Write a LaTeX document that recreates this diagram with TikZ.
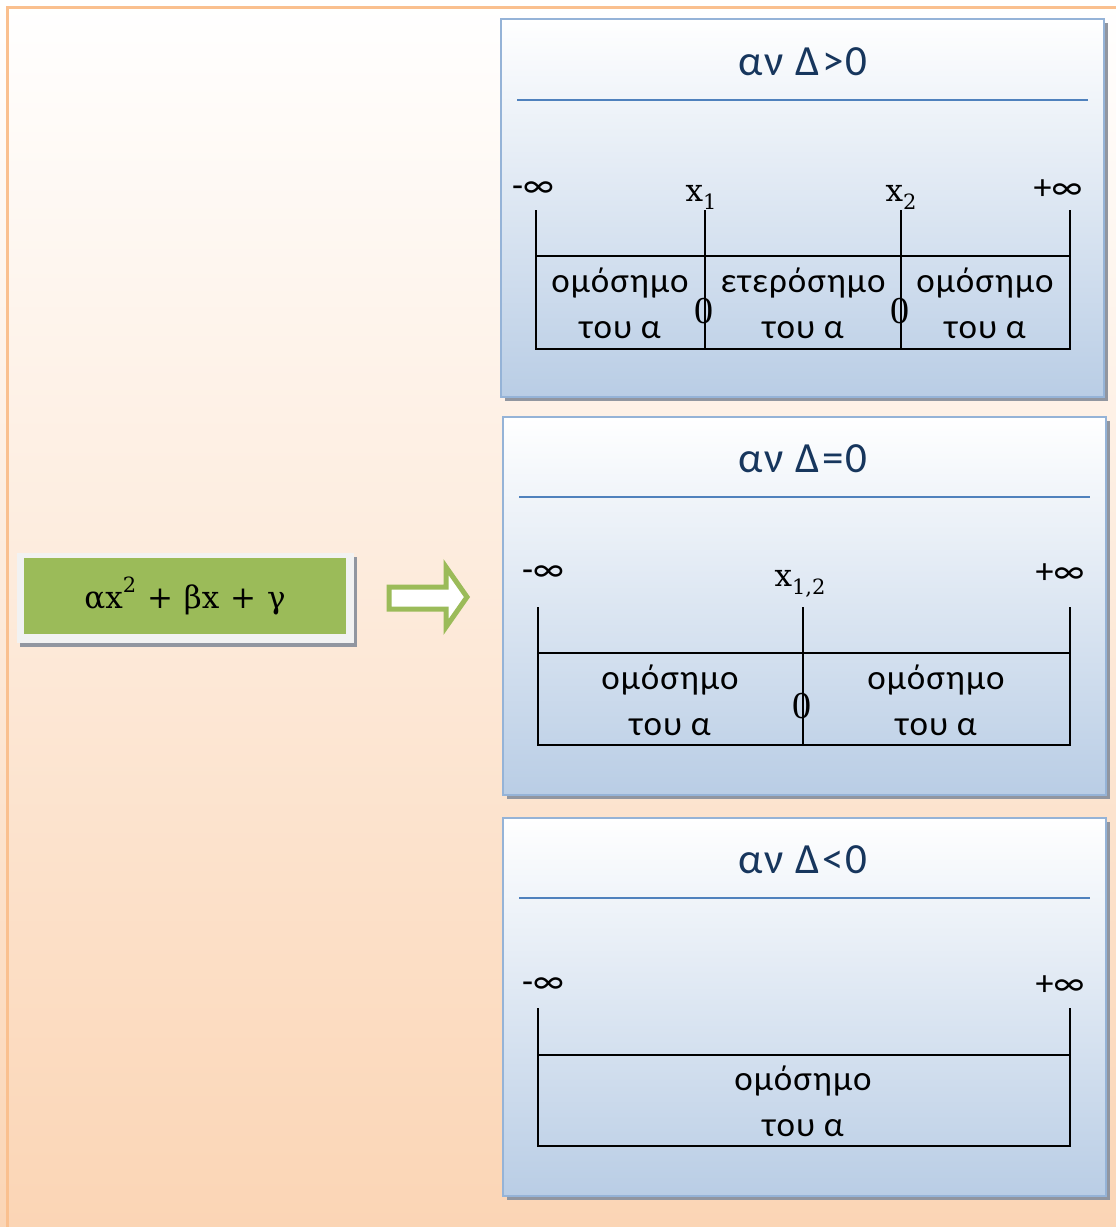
\documentclass[tikz,border=0pt]{standalone}
\usepackage{fontspec}
\setmainfont{Carlito}
\newfontfamily\serif{Liberation Serif}
\newfontfamily\mserif{DejaVu Serif}
\newfontfamily\titlefont[LetterSpace=5]{Carlito}
\newfontfamily\cellfont[LetterSpace=3]{Carlito}
\usetikzlibrary{shadows}
\definecolor{bgbot}{RGB}{251,213,181}
\definecolor{frameor}{RGB}{250,192,143}
\definecolor{panelb}{RGB}{149,179,215}
\definecolor{panelbot}{RGB}{185,205,229}
\definecolor{navy}{RGB}{23,54,93}
\definecolor{hline}{RGB}{79,129,189}
\definecolor{shadowg}{RGB}{145,150,160}
\definecolor{olive}{RGB}{155,187,89}
\definecolor{paleframe}{RGB}{242,242,242}
\tikzset{
  panel/.style={draw=panelb, line width=2.5pt, top color=white, bottom color=panelbot,
    minimum width=603pt, minimum height=378pt, inner sep=0pt,
    general shadow={fill=shadowg, shadow xshift=4pt, shadow yshift=-4pt}},
  title/.style={text=navy, font=\titlefont\fontsize{43}{48}\selectfont, inner sep=0pt},
  hrule/.style={draw=hline, line width=2.5pt},
  tbl/.style={draw=black, line width=2pt},
  inf/.style={font=\fontsize{36}{40}\selectfont, inner sep=0pt},
  xlab/.style={font=\mserif\fontsize{31}{36}\selectfont, inner sep=0pt, anchor=base},
  cell/.style={font=\cellfont\fontsize{35}{46}\selectfont, align=center, inner sep=0pt, anchor=base},
  zero/.style={font=\serif\fontsize{38}{44}\selectfont, inner sep=0pt},
}
\newcommand{\subidx}[1]{\raisebox{-8pt}{\fontsize{21}{24}\selectfont #1}}
\begin{document}
\begin{tikzpicture}[x=1pt,y=-1pt]
\useasboundingbox (0,0) rectangle (1116,1227);
\clip (0,0) rectangle (1116,1227);
% background
\shade[top color=white, bottom color=bgbot] (0,0) rectangle (1116,1227);
\draw[frameor, line width=3pt] (7.5,7.5) rectangle (1130,1240);

% formula box
\node[fill=paleframe, minimum width=337pt, minimum height=90pt, inner sep=0pt,
  general shadow={fill=shadowg, shadow xshift=3pt, shadow yshift=-4pt}] (fbox) at (185.5,597.5) {};
\node[fill=olive, minimum width=322pt, minimum height=76pt, inner sep=0pt] (formula) at (185,596)
  {\mserif\fontsize{31}{36}\selectfont αx\raisebox{0.5em}{\fontsize{21}{24}\selectfont 2}\hspace{0.35em}+\hspace{0.35em}βx\hspace{0.35em}+\hspace{0.35em}γ};

% block arrow
\draw[olive, line width=5pt, fill=white, line join=miter]
  (389,587) -- (446,587) -- (446,567) -- (467,597) -- (446,627) -- (446,609) -- (389,609) -- cycle;

% ===== panel 1 =====
\node[panel] (p1) at (802.5,208) {};
\node[title] (t1) at (803,62) {αν Δ>0};
\draw[hrule] (517,100) -- (1088,100);
\draw[tbl] (536,210) -- (536,349) -- (1070,349) -- (1070,210);
\draw[tbl] (536,256) -- (1070,256);
\draw[tbl] (705,210) -- (705,349);
\draw[tbl] (901,210) -- (901,349);
\node[inf] (a1) at (533,190) {-∞};
\node[inf] (b1) at (1058,190) {+∞};
\node[xlab] (x1) at (701,201) {x\subidx{1}};
\node[xlab] (x2) at (901,201) {x\subidx{2}};
\node[cell] (c11) at (620,338) {ομόσημο\\του α};
\node[cell] (c12) at (803,338) {ετερόσημο\\του α};
\node[cell] (c13) at (985,338) {ομόσημο\\του α};
\node[zero] (z11) at (704,311) {0};
\node[zero] (z12) at (900,311) {0};

% ===== panel 2 =====
\node[panel] (p2) at (804.5,606) {};
\node[title] (t2) at (803,459) {αν Δ=0};
\draw[hrule] (519,497) -- (1090,497);
\draw[tbl] (538,607) -- (538,745) -- (1070,745) -- (1070,607);
\draw[tbl] (538,653) -- (1070,653);
\draw[tbl] (803,607) -- (803,745);
\node[inf] (a2) at (543,574) {-∞};
\node[inf] (b2) at (1060,574) {+∞};
\node[xlab] (x12) at (800,586) {x\subidx{1,2}};
\node[cell] (c21) at (670,735) {ομόσημο\\του α};
\node[cell] (c22) at (936,735) {ομόσημο\\του α};
\node[zero] (z21) at (802,706) {0};

% ===== panel 3 =====
\node[panel] (p3) at (804.5,1007) {};
\node[title] (t3) at (803,860) {αν Δ<0};
\draw[hrule] (519,898) -- (1090,898);
\draw[tbl] (538,1008) -- (538,1146) -- (1070,1146) -- (1070,1008);
\draw[tbl] (538,1055) -- (1070,1055);
\node[inf] (a3) at (543,986) {-∞};
\node[inf] (b3) at (1060,986) {+∞};
\node[cell] (c31) at (803,1136) {ομόσημο\\του α};
\end{tikzpicture}
\end{document}
